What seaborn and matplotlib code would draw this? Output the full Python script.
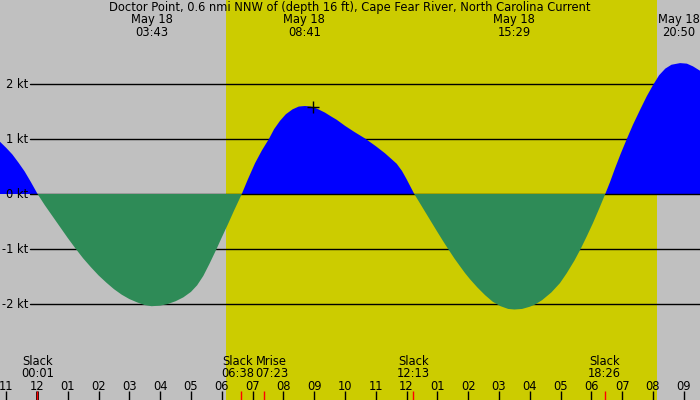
import numpy as np
import pandas as pd
import seaborn as sns
import matplotlib.pyplot as plt
from matplotlib.transforms import blended_transform_factory

sns.set_theme(style='white')
plt.rcParams['font.family'] = ['DejaVu Sans']
plt.rcParams['text.color'] = 'black'

title = 'Doctor Point, 0.6 nmi NNW of (depth 16 ft), Cape Fear River, North Carolina Current'

# current speed (hours after midnight May 18, knots)
hours = [-1.2, -1.0, -0.8, -0.6, -0.4, -0.2, 0.02,
         0.25, 0.5, 0.75, 1.0, 1.25, 1.5, 1.75, 2.0, 2.25, 2.5, 2.75, 3.0, 3.25, 3.5, 3.72,
         4.0, 4.25, 4.5, 4.75, 5.0, 5.2, 5.4, 5.6, 5.83, 6.0, 6.2, 6.4, 6.65,
         6.85, 7.08, 7.3, 7.53, 7.7, 7.89, 8.08, 8.3, 8.5, 8.7, 8.9, 9.1, 9.35, 9.55, 9.73,
         10.0, 10.3, 10.65, 11.0, 11.3, 11.5, 11.68, 11.85, 12.0, 12.12, 12.25,
         12.5, 12.75, 13.0, 13.2, 13.35, 13.55, 13.73, 13.9, 14.06, 14.3, 14.55, 14.8, 15.05,
         15.3, 15.5, 15.75, 16.0, 16.17, 16.4, 16.7, 16.98, 17.2, 17.45, 17.65, 17.85, 18.05,
         18.25, 18.45,
         18.6, 18.77, 18.95, 19.15, 19.35, 19.58, 19.8, 20.0, 20.2, 20.4, 20.6, 20.88, 21.1,
         21.3, 21.53]
knots = [0.95, 0.84, 0.72, 0.57, 0.41, 0.22, 0.0,
         -0.20, -0.40, -0.60, -0.80, -0.99, -1.17, -1.33, -1.48, -1.61, -1.73, -1.83, -1.91, -1.97, -2.02, -2.04,
         -2.03, -2.00, -1.95, -1.88, -1.78, -1.66, -1.49, -1.27, -1.0, -0.79, -0.55, -0.30, 0.0,
         0.27, 0.56, 0.79, 1.0, 1.18, 1.33, 1.45, 1.54, 1.59, 1.60, 1.59, 1.55, 1.48, 1.41, 1.35,
         1.24, 1.13, 1.01, 0.87, 0.74, 0.64, 0.55, 0.42, 0.27, 0.14, 0.0,
         -0.23, -0.46, -0.69, -0.87, -1.0, -1.17, -1.31, -1.44, -1.55, -1.70, -1.84, -1.96, -2.04,
         -2.09, -2.10, -2.09, -2.05, -2.01, -1.93, -1.79, -1.62, -1.44, -1.21, -1.0, -0.77, -0.53,
         -0.27, 0.0,
         0.21, 0.47, 0.73, 1.0, 1.26, 1.53, 1.78, 1.98, 2.16, 2.28, 2.35, 2.38, 2.37,
         2.32, 2.24]

kt_levels = [2, 1, 0, -1, -2]
extreme_times = ['03:43', '08:41', '15:29', '20:50']
extreme_date = 'May 18'
slack_times = ['00:01', '06:38', '12:13', '18:26']
moonrise = '07:23'
daylight = ['06:08', '20:08']
hour_ticks = list(range(-1, 22))
hour_labels = ['%02d' % ((h % 12) or 12) for h in hour_ticks]
marker_time, marker_kt = 8.95, 1.58


def to_h(s):
    hh, mm = s.split(':')
    return int(hh) + int(mm) / 60


df = pd.DataFrame({'hour': hours, 'knots': knots})
h = df['hour'].to_numpy()
v = df['knots'].to_numpy()
fs = 8.3

fig = plt.figure(figsize=(7, 4), dpi=100, facecolor='#c0c0c0')
ax = fig.add_axes([0, 0, 1, 1])
ax.set_facecolor('#c0c0c0')
ax.axvspan(to_h(daylight[0]), to_h(daylight[1]), color='#cccc00', lw=0, zorder=0)

for k in kt_levels:
    ax.axhline(k, xmin=30 / 700, xmax=1, color='black', lw=1, zorder=1 if k else 3)
    ax.text(28 / 700, k, f'{k} kt', transform=blended_transform_factory(ax.transAxes, ax.transData),
            ha='right', va='center', fontsize=fs, color='black', zorder=7)

ax.fill_between(h, v, 0, where=v >= 0, interpolate=True, color='blue', lw=0, zorder=2)
ax.fill_between(h, v, 0, where=v <= 0, interpolate=True, color='#2e8b57', lw=0, zorder=4)
sns.lineplot(data=df, x='hour', y='knots', ax=ax, lw=0, legend=False)
ax.plot(marker_time, marker_kt, marker='+', ms=8, mew=1, color='black', zorder=5)

bt = ax.get_xaxis_transform()
ax.text(0.5, 1 - 7 / 400, title, transform=ax.transAxes, ha='center', va='center', fontsize=fs)
for t in extreme_times:
    ax.text(to_h(t), 1 - 26 / 400, f'{extreme_date}\n{t}', transform=bt, ha='center', va='center',
            fontsize=fs, linespacing=0.95)

events = [('Slack', t, 0) for t in slack_times] + [('Mrise', moonrise, 7)]
events[1] = ('Slack', slack_times[1], -4)
for name, t, dx in events:
    x = to_h(t) + dx / 30.8
    ax.text(x, 32.5 / 400, f'{name}\n{t}', transform=bt, ha='center', va='center',
            fontsize=fs, linespacing=0.95)
    ax.vlines(to_h(t), 0, 9 / 400, transform=bt, color='red', lw=1, zorder=6)

for ht, lab in zip(hour_ticks, hour_labels):
    ax.vlines(ht, 0, 9 / 400, transform=bt, color='black', lw=2 if ht == 0 else 1, zorder=5)
    ax.text(ht, 14 / 400, lab, transform=bt, ha='center', va='center', fontsize=fs)

ax.set_xlim(-1.2, 21.526)
ax.set_ylim(-206 / 55, 194 / 55)
ax.axis('off')
fig.savefig('out.png', dpi=100, facecolor=fig.get_facecolor())
